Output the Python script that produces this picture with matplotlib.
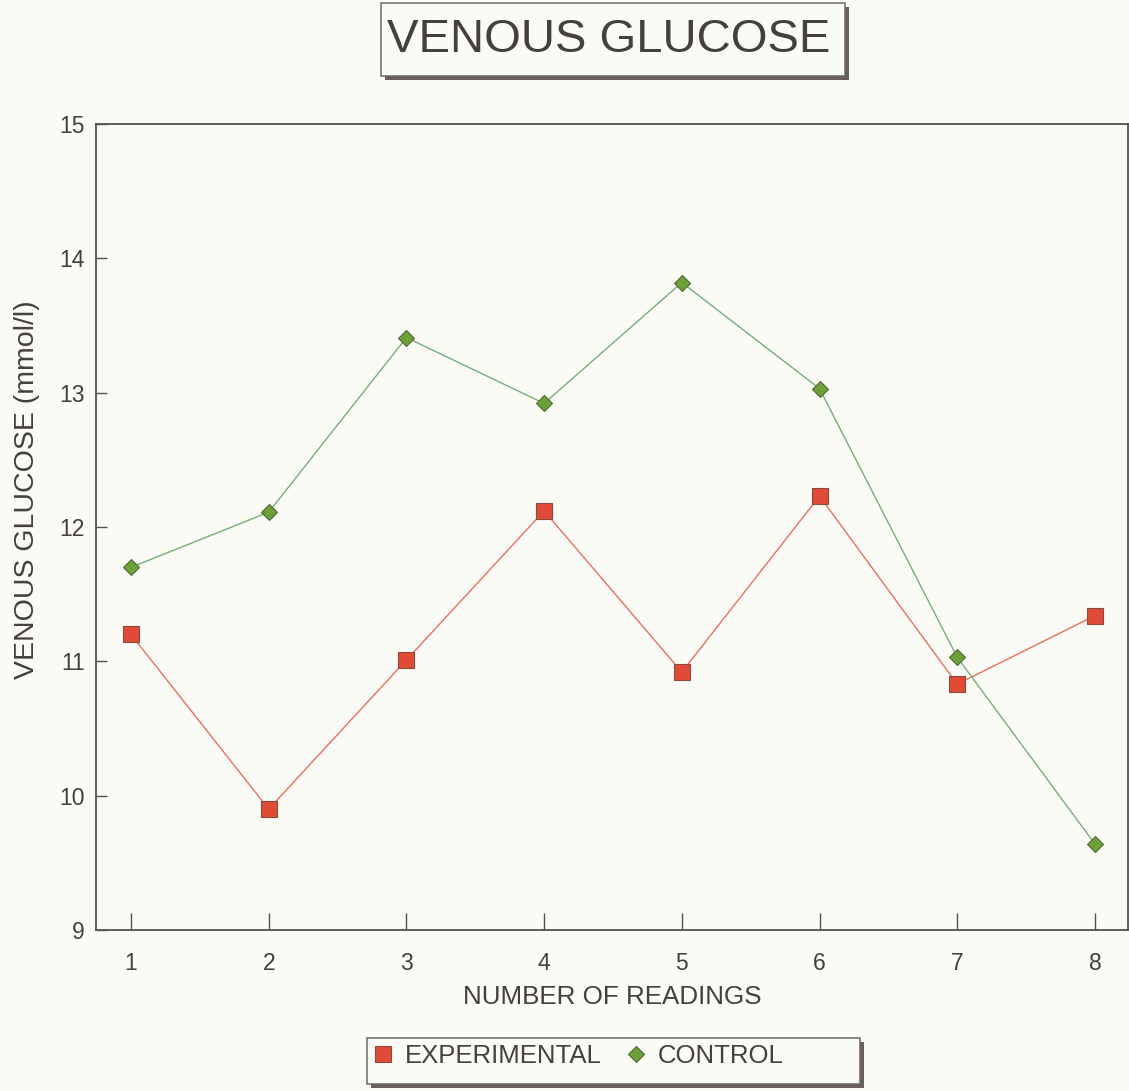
import matplotlib.pyplot as plt
from matplotlib.patches import Rectangle

# Data
readings = [1, 2, 3, 4, 5, 6, 7, 8]
experimental = [11.2, 9.9, 11.01, 12.12, 10.92, 12.23, 10.83, 11.34]
control = [11.70, 12.11, 13.41, 12.92, 13.82, 13.03, 11.03, 9.64]
y_ticks = [9, 10, 11, 12, 13, 14, 15]

plt.rcParams['font.family'] = ['Liberation Sans', 'DejaVu Sans']
text_col = '#463f3f'
bg = '#fbfbf6'
W, H = 1129, 1091

fig = plt.figure(figsize=(W / 100, H / 100), dpi=100, facecolor=bg)
ax = fig.add_axes([96 / W, 1 - 930 / H, 1032 / W, 806 / H])
ax.set_facecolor(bg)


def box(x0, y0, x1, y1, shadow=4):
    # pixel coords (top-left origin) -> framed box with dark drop shadow
    sh = Rectangle(((x0 + shadow) / W, 1 - (y1 + shadow) / H), (x1 - x0) / W,
                   (y1 - y0) / H, transform=fig.transFigure, fc='#6a5e5c',
                   ec='none', zorder=0)
    fr = Rectangle((x0 / W, 1 - y1 / H), (x1 - x0) / W, (y1 - y0) / H,
                   transform=fig.transFigure, fc=bg, ec='#6e6866', lw=1.1,
                   zorder=1)
    fig.patches.extend([sh, fr])


ax.plot(readings, experimental, color='#e8705e', lw=1.0, marker='s',
        markersize=12, markerfacecolor='#e04a36', markeredgecolor='#8a4a3e',
        markeredgewidth=0.8, label='EXPERIMENTAL')
ax.plot(readings, control, color='#78ae78', lw=1.0, marker='D',
        markersize=8, markerfacecolor='#6ea038', markeredgecolor='#4e6a3a',
        markeredgewidth=0.8, label='CONTROL')

ax.set_xlim(0.746, 8.24)
ax.set_ylim(9, 15)
ax.set_xticks(readings)
ax.set_yticks(y_ticks)
ax.tick_params(direction='in', width=1, color='#555050',
               labelsize=16.5, labelcolor=text_col)
ax.tick_params(axis='x', length=12, pad=16)
ax.tick_params(axis='y', length=8, pad=8)
for s in ax.spines.values():
    s.set_color('#555050')
    s.set_linewidth(1.3)

ax.set_xlabel('NUMBER OF READINGS', fontsize=18.7, color=text_col, labelpad=7)
ax.set_ylabel('VENOUS GLUCOSE (mmol/l)', fontsize=20.5, color=text_col,
              va='center')
ax.yaxis.set_label_coords(-0.067, 0.546)

# Title box with shadow
box(381, 3, 845, 76)
fig.text(609 / W, 1 - 40 / H, 'VENOUS GLUCOSE', fontsize=34, color=text_col,
         ha='center', va='center', zorder=2)

# Legend box with shadow
box(367, 1038, 860, 1084)
leg = fig.legend(loc='center left', bbox_to_anchor=(353 / W, 1 - 1056 / H),
                 ncol=2, fontsize=18.5, frameon=False, handlelength=0.7,
                 handletextpad=0.5, columnspacing=1.0, borderpad=0.3)
leg.set_zorder(3)
for t in leg.get_texts():
    t.set_color(text_col)
for h in leg.legend_handles:
    h.set_linestyle('none')

fig.savefig('out.png', dpi=100, facecolor=bg)
